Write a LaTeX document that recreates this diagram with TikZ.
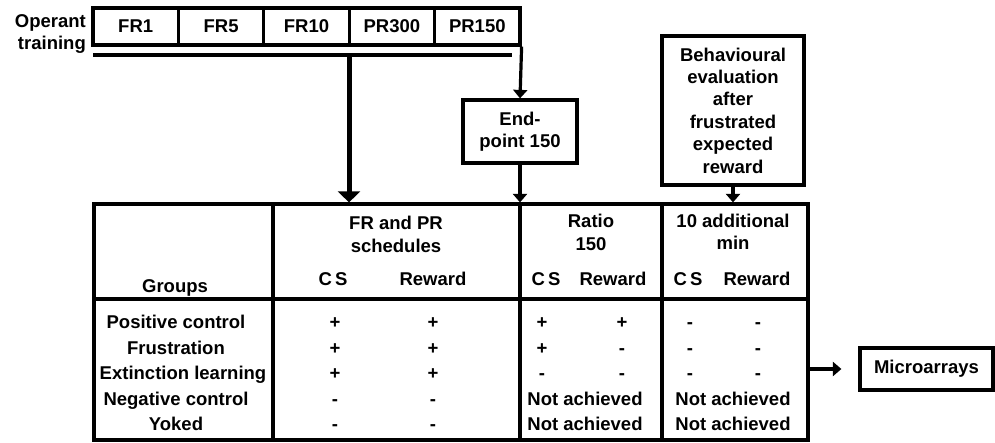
\documentclass[tikz,border=0pt]{standalone}
\usepackage{fontspec}
\setmainfont{Liberation Sans}
\usetikzlibrary{arrows.meta}

\begin{document}
\begin{tikzpicture}[x=1pt, y=-1pt,
  txt/.style={font=\fontsize{18.5}{22.4}\selectfont\bfseries, inner sep=0pt},
  cell/.style={txt, anchor=base},
  box/.style={txt, draw, line width=3.2pt, align=center},
  rule/.style={line width=3.2pt},
  arr/.style={line width=3.2pt, -{Triangle[width=14pt, length=8.5pt]}},
  bigarr/.style={line width=5pt, -{Triangle[width=22pt, length=11pt]}}]

  \useasboundingbox (0,0) rectangle (995,443);

  % training
  \node[txt, anchor=east, align=right] (oper) at (86,34) {Operant\\training};
  \foreach \lab [count=\i] in {FR1,FR5,FR10,PR300,PR150}
    \node[box, minimum width=85.4pt, minimum height=37pt] (t\i) at ({93+85.4*(\i-0.5)},26.5) {\lab};

  \coordinate (bar w) at (93,55);
  \coordinate (bar e) at (512,55);
  \coordinate (split) at (349,55);
  \draw[rule] (bar w) -- (bar e);

  \node[box, minimum width=114pt, minimum height=63pt] (endp) at (520,131.5) {End-\\point 150};
  \node[box, minimum width=142pt, minimum height=149pt] (beh) at (733,110.5)
    {Behavioural\\evaluation\\after\\frustrated\\expected\\reward};
  \node[box, minimum width=133pt, minimum height=42pt] (micro) at (926.5,369) {Microarrays};

  % table
  \node[draw, rule, minimum width=714pt, minimum height=236pt, inner sep=0pt] (tab) at (451,322) {};
  \draw[rule] (273,204) -- (273,440);
  \draw[rule] (520,204) -- (520,440);
  \draw[rule] (662,204) -- (662,440);
  \draw[rule] (94,299) -- (808,299);

  \draw[bigarr] (split) -- (split |- tab.north);
  \draw[arr] (t5.south east) -- (endp.north);
  \draw[arr] (endp.south) -- (endp.south |- tab.north);
  \draw[arr] (beh.south) -- (beh.south |- tab.north);
  \draw[arr, shorten >=17pt] (tab.east |- micro.west) -- (micro.west);

  % header
  \node[txt, align=center] (hfr) at (396,234.5) {FR and PR\\schedules};
  \node[txt, align=center] (hratio) at (591,232.5) {Ratio\\150};
  \node[txt, align=center] (hadd) at (733,231.5) {10 additional\\min};
  \node[cell] (groups) at (175,293) {Groups};
  \foreach \cs/\rw in {333/433, 546/613, 688/757} {
    \node[cell] (cs\cs) at (\cs,286) {C\,S};
    \node[cell] (rw\rw) at (\rw,286) {Reward};
  }

  % rows
  \foreach \gx/\grp [count=\r] in {176/Positive control, 176/Frustration, 183/Extinction learning,
      176/Negative control, 176/Yoked}
    \node[cell] (g\r) at (\gx,{303.4+25.5*\r}) {\grp};
  \foreach \s/\r in {+/1, +/2, +/3, -/4, -/5} {
    \node[cell] (frcs\r) at (335,{303.4+25.5*\r}) {\s};
    \node[cell] (frrw\r) at (433,{303.4+25.5*\r}) {\s};
  }
  \foreach \a/\b [count=\r] in {+/+, +/-, -/-} {
    \node[cell] (racs\r) at (542,{303.4+25.5*\r}) {\a};
    \node[cell] (rarw\r) at (622,{303.4+25.5*\r}) {\b};
    \node[cell] (adcs\r) at (690,{303.4+25.5*\r}) {-};
    \node[cell] (adrw\r) at (758,{303.4+25.5*\r}) {-};
  }
  \foreach \r in {4,5} {
    \node[cell] (rana\r) at (585,{303.4+25.5*\r}) {Not achieved};
    \node[cell] (adna\r) at (733,{303.4+25.5*\r}) {Not achieved};
  }

\end{tikzpicture}
\end{document}
